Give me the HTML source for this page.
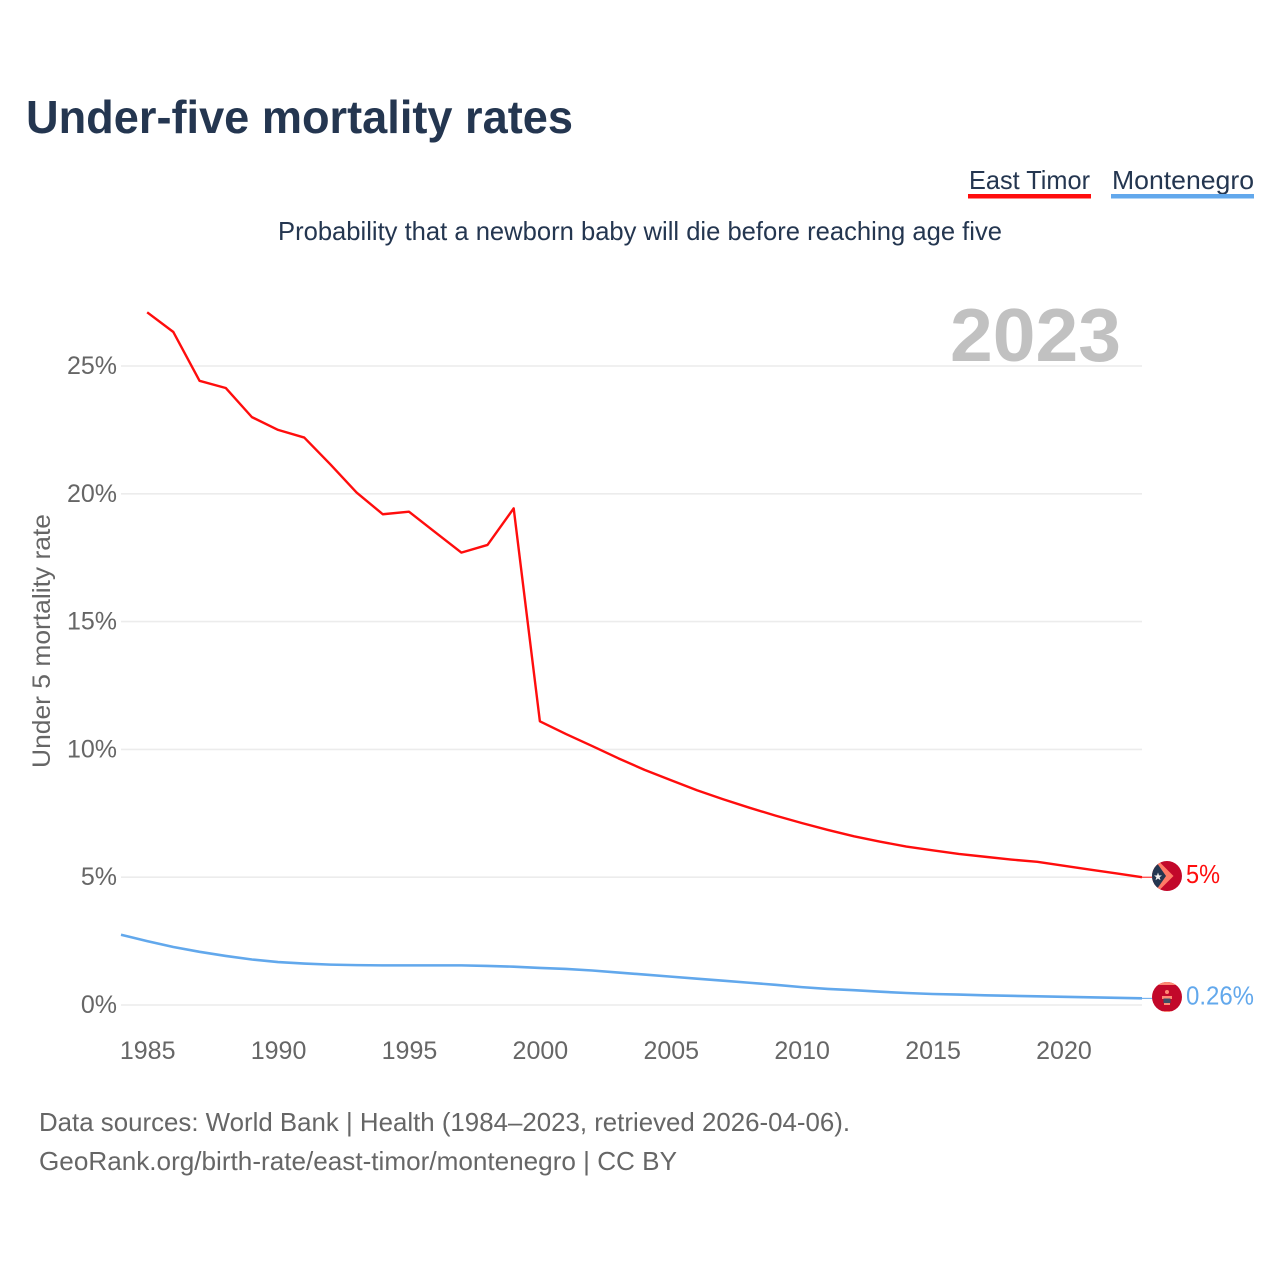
<!DOCTYPE html>
<html lang="en">
<head>
<meta charset="utf-8">
<title>Under-five mortality rates</title>
<style>
html,body{margin:0;padding:0;background:#fff;width:1280px;height:1280px;overflow:hidden}
svg{display:block;font-family:"Liberation Sans",sans-serif}
</style>
</head>
<body>
<svg id="chart" width="1280" height="1280" viewBox="0 0 1280 1280" xmlns="http://www.w3.org/2000/svg">
  <defs>
    <clipPath id="clip-tl"><circle cx="1167" cy="876" r="15"/></clipPath>
    <clipPath id="clip-me"><circle cx="1167" cy="997" r="15"/></clipPath>
  </defs>
  <rect width="1280" height="1280" fill="#fff"/>
  <text x="26" y="133" font-size="46" font-weight="700" fill="#243650" textLength="547" lengthAdjust="spacingAndGlyphs">Under-five mortality rates</text>

  <g>
    <g>
      <text x="969" y="189" font-size="26" fill="#243650" textLength="121" lengthAdjust="spacingAndGlyphs">East Timor</text>
      <rect x="968" y="194" width="123" height="4.5" fill="#ff0d0d"/>
    </g>
    <g>
      <text x="1112" y="189" font-size="26" fill="#243650" textLength="142" lengthAdjust="spacingAndGlyphs">Montenegro</text>
      <rect x="1111" y="194" width="143" height="4.5" fill="#62a8ec"/>
    </g>
  </g>

  <text x="278" y="240" font-size="26" fill="#243650" textLength="724" lengthAdjust="spacingAndGlyphs">Probability that a newborn baby will die before reaching age five</text>

  <text transform="translate(50,768) rotate(-90)" x="0" y="0" font-size="25" fill="#666" textLength="254" lengthAdjust="spacingAndGlyphs">Under 5 mortality rate</text>

  <g id="grid"></g>
  <g id="yticks"></g>
  <g id="xticks"></g>

  <text x="950" y="361" font-size="75" font-weight="700" fill="#c1c1c1" textLength="171" lengthAdjust="spacingAndGlyphs">2023</text>

  <g id="series"></g>

  <g id="flag-tl" clip-path="url(#clip-tl)">
    <rect x="1150" y="859" width="34" height="34" fill="#c2082a"/>
    <polygon points="1150,852.5 1173.5,876 1150,899.5" fill="#ff7a66"/>
    <polygon points="1150,853 1166,876 1150,899" fill="#243650"/>
    <polygon points="1158,872.5 1159,875.4 1162,875.5 1159.6,877.3 1160.5,880.2 1158,878.5 1155.5,880.2 1156.4,877.3 1154,875.5 1157,875.4" fill="#f3f0ee"/>
  </g>
  <g id="flag-me" clip-path="url(#clip-me)">
    <rect x="1150" y="980" width="34" height="34" fill="#c2082a"/>
    <rect x="1150" y="980" width="34" height="5" fill="#ff8a74"/>
    <rect x="1150" y="1011" width="34" height="3" fill="#ff8a74"/>
    <circle cx="1167" cy="992" r="2" fill="#ff8a74"/>
    <rect x="1162" y="996" width="10" height="3" fill="#ff8a74"/>
    <rect x="1163.5" y="998.5" width="7" height="4.5" fill="#3c4f66"/>
    <rect x="1164" y="1003" width="6" height="2" fill="#ff8a74"/>
  </g>

  <g id="end-labels"></g>

  <text x="39" y="1131" font-size="26" fill="#666" textLength="811" lengthAdjust="spacingAndGlyphs">Data sources: World Bank | Health (1984–2023, retrieved 2026-04-06).</text>
  <text x="39" y="1170" font-size="26" fill="#666" textLength="638" lengthAdjust="spacingAndGlyphs">GeoRank.org/birth-rate/east-timor/montenegro | CC BY</text>
</svg>
<script>
const NS = 'http://www.w3.org/2000/svg';
const yearTicks = [1985, 1990, 1995, 2000, 2005, 2010, 2015, 2020];
const yTickValues = [0, 5, 10, 15, 20, 25];
const eastTimorYears = [1985,1986,1987,1988,1989,1990,1991,1992,1993,1994,1995,1996,1997,1998,1999,2000,2001,2002,2003,2004,2005,2006,2007,2008,2009,2010,2011,2012,2013,2014,2015,2016,2017,2018,2019,2020,2021,2022,2023];
const eastTimorValues = [27.1,26.33,24.42,24.14,23.0,22.5,22.2,21.15,20.05,19.2,19.3,18.5,17.7,18.0,19.43,11.1,10.6,10.13,9.65,9.2,8.8,8.4,8.05,7.72,7.41,7.12,6.85,6.6,6.39,6.2,6.05,5.91,5.8,5.69,5.6,5.45,5.3,5.15,5.0];
const montenegroYears = [1984,1985,1986,1987,1988,1989,1990,1991,1992,1993,1994,1995,1996,1997,1998,1999,2000,2001,2002,2003,2004,2005,2006,2007,2008,2009,2010,2011,2012,2013,2014,2015,2016,2017,2018,2019,2020,2021,2022,2023];
const montenegroValues = [2.75,2.5,2.27,2.08,1.92,1.78,1.68,1.62,1.58,1.56,1.55,1.55,1.55,1.55,1.53,1.5,1.45,1.41,1.35,1.27,1.19,1.11,1.03,0.95,0.87,0.79,0.7,0.63,0.58,0.52,0.47,0.43,0.41,0.38,0.36,0.34,0.32,0.3,0.28,0.26];
const eastTimorEndLabel = '5%';
const montenegroEndLabel = '0.26%';

function xScale(year) { return 121 + (year - 1984) * (1142 - 121) / 39; }
function yScale(value) { return 1005 - value * 25.56; }

function make(tag, attrs, text) {
  const el = document.createElementNS(NS, tag);
  for (const k in attrs) el.setAttribute(k, attrs[k]);
  if (text !== undefined) el.textContent = text;
  return el;
}

const grid = document.getElementById('grid');
const yticks = document.getElementById('yticks');
const xticks = document.getElementById('xticks');
const seriesGroup = document.getElementById('series');
const endLabels = document.getElementById('end-labels');

yTickValues.forEach(function (v) {
  const line = make('line', { x1: 121, x2: 1142, y1: yScale(v), y2: yScale(v), stroke: '#ececec', 'stroke-width': 1.6 });
  
  
  grid.appendChild(line);
  const label = make('text', { x: 117, y: yScale(v) + 8, 'text-anchor': 'end', 'font-size': 25, fill: '#666' }, v + '%');
  
  
  yticks.appendChild(label);
});

yearTicks.forEach(function (yr) {
  const label = make('text', { x: xScale(yr) + 0.5, y: 1059, 'text-anchor': 'middle', 'font-size': 25, fill: '#666' }, String(yr));
  
  
  xticks.appendChild(label);
});

function pathFrom(years, values) {
  return years.map(function (yr, i) {
    return (i ? 'L' : 'M') + xScale(yr).toFixed(2) + ' ' + yScale(values[i]).toFixed(2);
  }).join(' ');
}

const lineMontenegro = make('path', { d: pathFrom(montenegroYears, montenegroValues), fill: 'none', stroke: '#62a8ec', 'stroke-width': 2.6, 'stroke-linejoin': 'round' });


seriesGroup.appendChild(lineMontenegro);

const lineEastTimor = make('path', { d: pathFrom(eastTimorYears, eastTimorValues), fill: 'none', stroke: '#ff0d0d', 'stroke-width': 2.4, 'stroke-linejoin': 'round' });


seriesGroup.appendChild(lineEastTimor);

const lastTL = eastTimorValues[eastTimorValues.length - 1];
const lastME = montenegroValues[montenegroValues.length - 1];

const leaderTL = make('line', { x1: xScale(2023), x2: 1153, y1: yScale(lastTL), y2: yScale(lastTL), stroke: '#ff0d0d', 'stroke-width': 1 });


seriesGroup.appendChild(leaderTL);

const leaderME = make('line', { x1: xScale(2023), x2: 1153, y1: yScale(lastME), y2: yScale(lastME), stroke: '#62a8ec', 'stroke-width': 1 });


seriesGroup.appendChild(leaderME);

const endTL = make('text', { x: 1186, y: yScale(lastTL) + 6, 'font-size': 26, fill: '#ff0d0d', textLength: 34, lengthAdjust: 'spacingAndGlyphs' }, eastTimorEndLabel);


endLabels.appendChild(endTL);

const endME = make('text', { x: 1186, y: yScale(lastME) + 6, 'font-size': 26, fill: '#62a8ec', textLength: 68, lengthAdjust: 'spacingAndGlyphs' }, montenegroEndLabel);


endLabels.appendChild(endME);
</script>
</body>
</html>
